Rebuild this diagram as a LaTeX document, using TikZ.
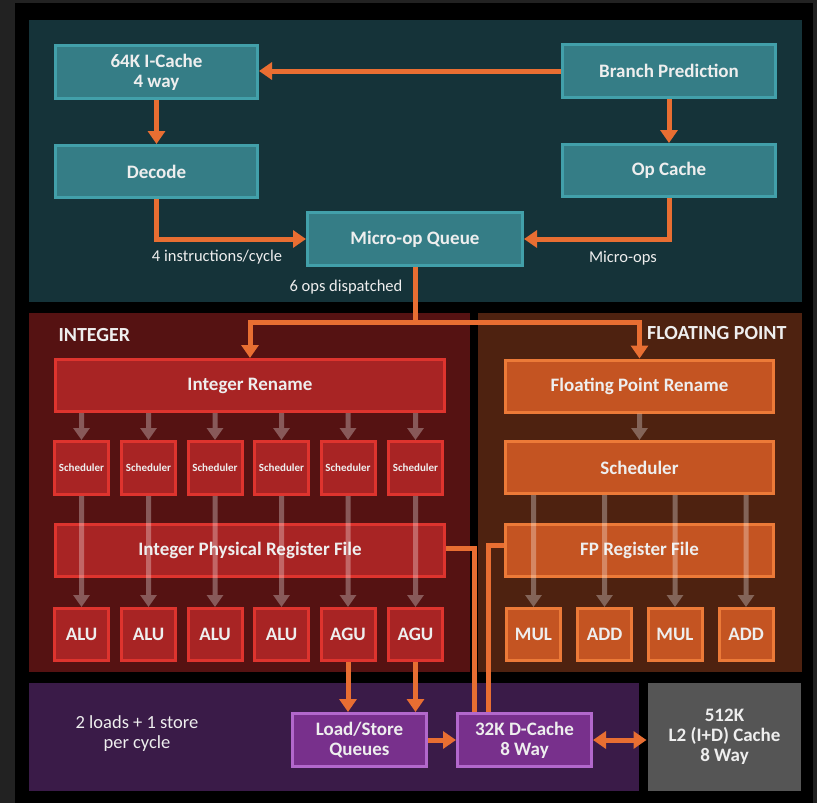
\documentclass[tikz,border=0pt]{standalone}
\usepackage{fontspec}
\setmainfont{Carlito}
\usetikzlibrary{positioning,arrows.meta}
\definecolor{bggray}{RGB}{34,34,34}
\definecolor{tealpanel}{RGB}{21,51,57}
\definecolor{tealfill}{RGB}{53,125,134}
\definecolor{tealline}{RGB}{66,160,170}
\definecolor{intpanel}{RGB}{85,18,18}
\definecolor{intfill}{RGB}{168,36,36}
\definecolor{intline}{RGB}{222,52,46}
\definecolor{fppanel}{RGB}{78,34,16}
\definecolor{fpfill}{RGB}{196,84,34}
\definecolor{fpline}{RGB}{236,122,56}
\definecolor{lspanel}{RGB}{58,27,72}
\definecolor{lsfill}{RGB}{120,48,140}
\definecolor{lsline}{RGB}{178,104,204}
\definecolor{ltwo}{RGB}{85,85,85}
\definecolor{flow}{RGB}{232,110,50}
\definecolor{txt}{RGB}{238,238,238}

\begin{document}
\begin{tikzpicture}[
    x=1pt, y=-1pt,
    node distance=44pt,
    box/.style={draw, line width=3pt, text=txt, align=center, inner sep=0pt,
        font=\fontsize{19}{20}\selectfont\bfseries},
    tealbox/.style={box, fill=tealfill, draw=tealline},
    intbox/.style={box, fill=intfill, draw=intline},
    fpbox/.style={box, fill=fpfill, draw=fpline},
    lsbox/.style={box, fill=lsfill, draw=lsline, minimum width=134pt, minimum height=53pt},
    wide/.style={minimum width=389pt, minimum height=52pt},
    fpwide/.style={minimum width=268pt, minimum height=52pt},
    sched/.style={intbox, minimum width=54pt, minimum height=53pt, font=\fontsize{11}{12}\selectfont\bfseries},
    unit/.style={minimum width=54pt, minimum height=52pt},
    note/.style={text=txt, align=center, font=\fontsize{16.5}{20}\selectfont},
    title/.style={text=txt, font=\fontsize{20}{22}\selectfont\bfseries},
    flowline/.style={draw=flow, line width=5pt},
    flowarrow/.style={flowline, -{Triangle[length=13pt,width=17pt]}},
    issue/.style={draw=white, line width=5pt, -{Triangle[length=12pt,width=16pt]}}
]
\useasboundingbox (0,0) rectangle (817,803);
% panels
\fill[bggray] (0,0) rectangle (817,803);
\fill[black] (15,3) rectangle (813,803);
\fill[tealpanel] (29,20) rectangle (802,302);
\fill[intpanel] (29,313) rectangle (470,672);
\fill[fppanel] (478,313) rectangle (802,672);
\fill[lspanel] (29,683) rectangle (639,791);

% front end
\node[tealbox, minimum width=202pt, minimum height=53pt] (icache) at (156.5,72) {64K I-Cache\\4 way};
\node[tealbox, minimum width=202pt, minimum height=52pt, below=of icache] (decode) {Decode};
\node[tealbox, minimum width=213pt, minimum height=53pt] (branch) at (669,71) {Branch Prediction};
\node[tealbox, minimum width=213pt, minimum height=52pt, below=of branch] (opcache) {Op Cache};
\node[tealbox, minimum width=215pt, minimum height=53pt] (uopq) at (415,239) {Micro-op Queue};
\node[note] (instr) at (217,257) {4 instructions/cycle};
\node[note] (uops) at (623,258) {Micro-ops};
\node[note] (dispatch) at (346,287) {6 ops dispatched};

% integer
\node[title, anchor=west] (inttitle) at (55,335) {INTEGER};
\node[intbox, wide] (intren) at (250,385.5) {Integer Rename};
\node[sched] (s1) at (81.5,468) {Scheduler};
\node[sched] (s2) at (148.5,468) {Scheduler};
\node[sched] (s3) at (215,468) {Scheduler};
\node[sched] (s4) at (281.5,468) {Scheduler};
\node[sched] (s5) at (348,468) {Scheduler};
\node[sched] (s6) at (415.5,468) {Scheduler};
\node[intbox, wide] (intprf) at (250,550.5) {Integer Physical Register File};
\node[intbox, unit] (alu1) at (81.5,634.5) {ALU};
\node[intbox, unit] (alu2) at (148.5,634.5) {ALU};
\node[intbox, unit] (alu3) at (215,634.5) {ALU};
\node[intbox, unit] (alu4) at (281.5,634.5) {ALU};
\node[intbox, unit] (agu1) at (348,634.5) {AGU};
\node[intbox, unit] (agu2) at (415.5,634.5) {AGU};

% floating point
\node[title, anchor=east] (fptitle) at (790,333) {FLOATING POINT};
\node[fpbox, fpwide] (fpren) at (639.5,386) {Floating Point Rename};
\node[fpbox, fpwide] (fpsched) at (639.5,467.5) {Scheduler};
\node[fpbox, fpwide] (fprf) at (639.5,550.5) {FP Register File};
\node[fpbox, unit] (mul1) at (533.5,634.5) {MUL};
\node[fpbox, unit] (add1) at (604.5,634.5) {ADD};
\node[fpbox, unit] (mul2) at (675,634.5) {MUL};
\node[fpbox, unit] (add2) at (746,634.5) {ADD};

% load/store
\node[note, font=\fontsize{18.5}{20}\selectfont] (ldst) at (137,734) {2 loads + 1 store\\per cycle};
\node[lsbox] (lsq) at (359.5,740) {Load/Store\\Queues};
\node[lsbox] (dcache) at (524.5,740) {32K D-Cache\\8 Way};
\node[box, draw=none, fill=ltwo, minimum width=153pt, minimum height=108pt] (ltwocache) at (724.5,737) {512K\\L2 (I+D) Cache\\8 Way};

\coordinate (split) at (uopq.south |- 0,322);
\draw[flowarrow] (branch.west) -- (branch.west -| icache.east);
\draw[flowarrow] (icache) -- (decode);
\draw[flowarrow] (branch) -- (opcache);
\draw[flowarrow] (decode.south) |- (uopq.west);
\draw[flowarrow] (opcache.south) |- (uopq.east);
\draw[flowarrow] (uopq.south) -- (split) -| (intren.north);
\draw[flowarrow] (split) -| (fpren.north);

\begin{scope}[transparency group, opacity=0.3]
\draw[issue] (s1.north |- intren.south) -- (s1.north);
\draw[issue] (s2.north |- intren.south) -- (s2.north);
\draw[issue] (s3.north |- intren.south) -- (s3.north);
\draw[issue] (s4.north |- intren.south) -- (s4.north);
\draw[issue] (s5.north |- intren.south) -- (s5.north);
\draw[issue] (s6.north |- intren.south) -- (s6.north);
\draw[issue] (s1.south) -- (alu1.north);
\draw[issue] (s2.south) -- (alu2.north);
\draw[issue] (s3.south) -- (alu3.north);
\draw[issue] (s4.south) -- (alu4.north);
\draw[issue] (s5.south) -- (agu1.north);
\draw[issue] (s6.south) -- (agu2.north);
\draw[issue] (fpren) -- (fpsched);
\draw[issue] (mul1.north |- fpsched.south) -- (mul1.north);
\draw[issue] (add1.north |- fpsched.south) -- (add1.north);
\draw[issue] (mul2.north |- fpsched.south) -- (mul2.north);
\draw[issue] (add2.north |- fpsched.south) -- (add2.north);
\end{scope}

\draw[flowarrow] (agu1.south) -- (agu1.south |- lsq.north);
\draw[flowarrow] (agu2.south) -- (agu2.south |- lsq.north);
\draw[flowarrow] (lsq) -- (dcache);
\draw[flowline, {Triangle[length=13pt,width=17pt]}-{Triangle[length=13pt,width=17pt]}] (dcache.east) -- (dcache.east -| ltwocache.west);
\draw[flowline] (intprf.east |- 0,548) -| ([xshift=18pt]dcache.north west);
\draw[flowline] (fprf.west |- 0,545) -| ([xshift=32pt]dcache.north west);
\end{tikzpicture}
\end{document}
